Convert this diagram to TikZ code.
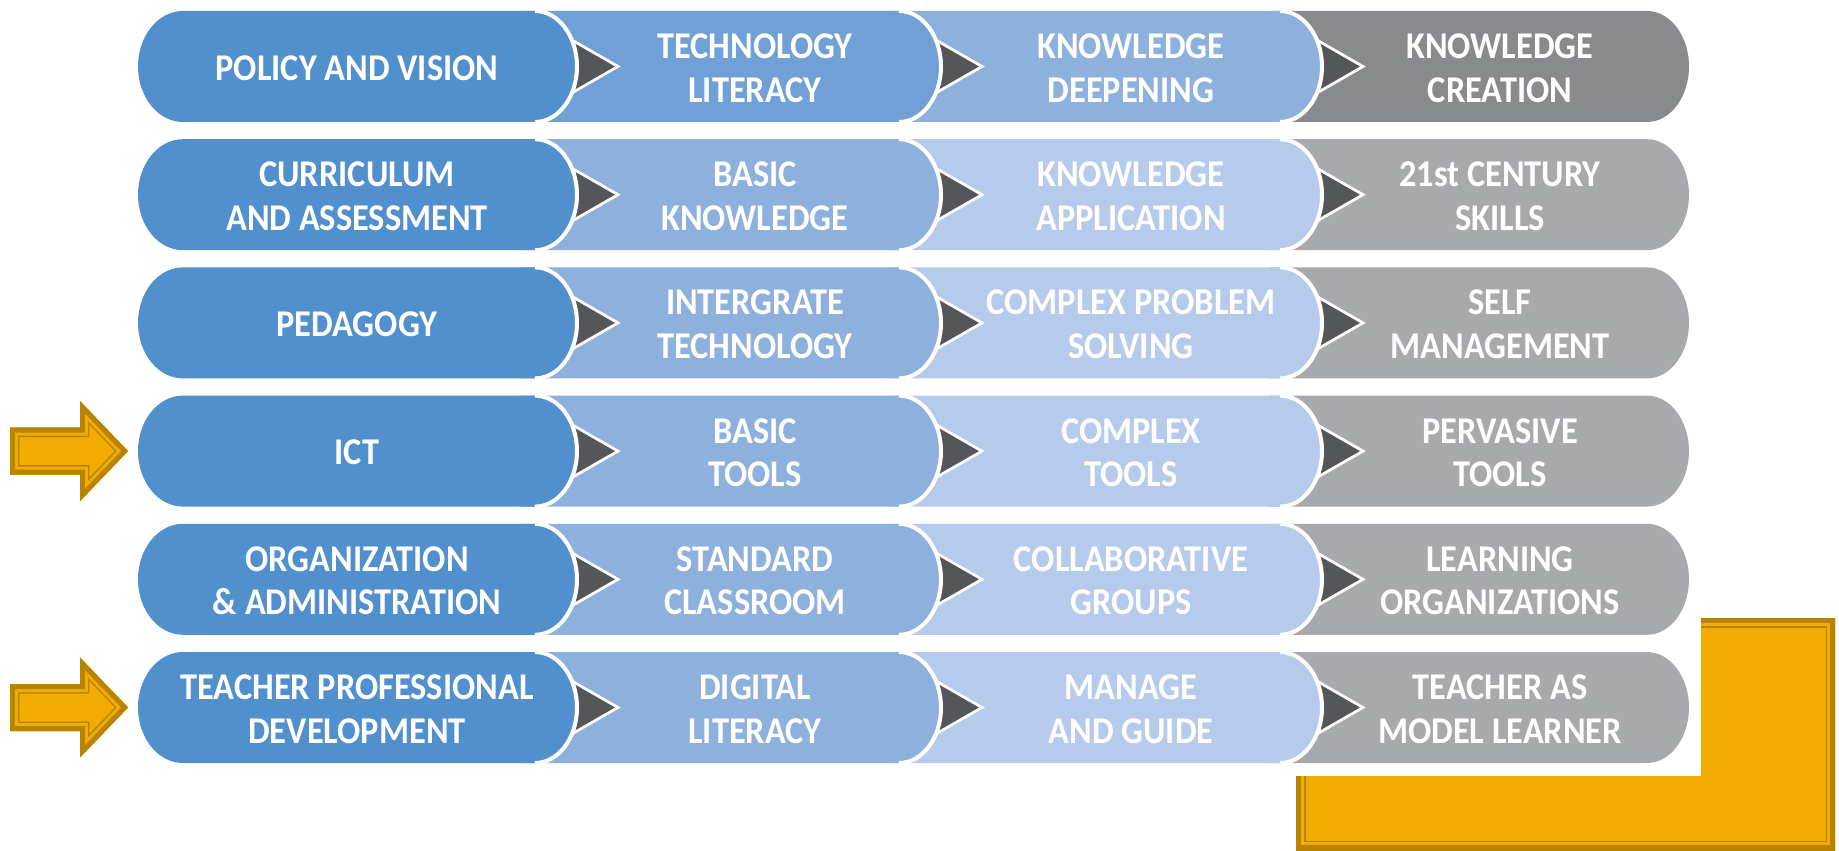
\documentclass[tikz,border=0pt]{standalone}
\usepackage{fontspec}
\setmainfont{Carlito}[FakeStretch=0.91]
\usetikzlibrary{positioning}

\definecolor{blueA}{RGB}{81,144,205}
\definecolor{blueB}{RGB}{112,160,214}
\definecolor{blueC}{RGB}{141,176,220}
\definecolor{blueD}{RGB}{182,203,235}
\definecolor{greyA}{RGB}{137,138,142}
\definecolor{greyB}{RGB}{168,169,173}
\definecolor{chevron}{RGB}{84,86,90}
\definecolor{gold}{RGB}{240,172,0}
\definecolor{golddark}{RGB}{184,132,0}

% dark chevron, #1 is the end of the strand before it, #2 the row centre
\newcommand{\chev}[2]{%
  \filldraw[fill=chevron, draw=white, line width=0.055cm, line join=miter]
    (#1+41,#2) -- (#1-20,#2-35) -- (#1-20,#2+35) -- cycle;}

% gold shape with the thick edge and the thin line inside it
\newcommand{\goldshape}[1]{%
  \begin{scope}
    \clip #1;
    \fill[gold] #1;
    \draw[golddark, line width=0.38cm] #1;
    \draw[gold, line width=0.32cm] #1;
    \draw[golddark, line width=0.2cm] #1;
  \end{scope}}

\newcommand{\goldarrow}[1]{%
  \goldshape{(10,#1-23.5) -- (80,#1-23.5) -- (80,#1-50) -- (128,#1) -- (80,#1+50) -- (80,#1+23.5) -- (10,#1+23.5) -- cycle}}

% one row: #1 centre, #2 #3 #4 colours of strand 2 3 4, #5..#8 the texts, #9 name of the row
\newcommand{\strandrow}[9]{%
  \fill[#4] (1270,#1-55.5) -- (1647,#1-55.5) arc[start angle=-90, end angle=90, x radius=42, y radius=55.5] -- (1270,#1+55.5) -- cycle;
  \chev{1322}{#1}
  \fill[#3] (890,#1-55.5) -- (1280,#1-55.5) arc[start angle=-90, end angle=90, x radius=42, y radius=55.5] -- (890,#1+55.5) -- cycle;
  \draw[white, line width=0.08cm] (1280,#1-55.5) arc[start angle=-90, end angle=90, x radius=42, y radius=55.5];
  \chev{941}{#1}
  \fill[#2] (520,#1-55.5) -- (899,#1-55.5) arc[start angle=-90, end angle=90, x radius=42, y radius=55.5] -- (520,#1+55.5) -- cycle;
  \draw[white, line width=0.08cm] (899,#1-55.5) arc[start angle=-90, end angle=90, x radius=42, y radius=55.5];
  \chev{577}{#1}
  \fill[blueA] (183,#1-55.5) -- (535,#1-55.5) arc[start angle=-90, end angle=90, x radius=42, y radius=55.5] -- (183,#1+55.5) arc[start angle=90, end angle=270, x radius=45, y radius=55.5] -- cycle;
  \draw[white, line width=0.08cm] (535,#1-55.5) arc[start angle=-90, end angle=90, x radius=42, y radius=55.5];
  \node[lbl] (#91) at (357,#1+1.5) {#5};
  \node[lbl] (#92) at (755,#1+1.5) {#6};
  \node[lbl] (#93) at (1131,#1+1.5) {#7};
  \node[lbl] (#94) at (1500,#1+1.5) {#8};}

\begin{document}
\begin{tikzpicture}[x=0.02cm, y=-0.02cm,
lbl/.style={text=white, font=\bfseries\fontsize{21.5}{24.8}\selectfont, align=center, inner sep=0pt}] % one unit is one pixel of the picture, y goes down
\useasboundingbox (0,0) rectangle (1839,851);

\goldshape{(1296,618) rectangle (1835,850)}% the gold box, the white part of the table lies over it
\fill[white] (1270,590) rectangle (1701,776);

\strandrow{66.5}{blueB}{blueC}{greyA}{POLICY AND VISION}{TECHNOLOGY\\LITERACY}{KNOWLEDGE\\DEEPENING}{KNOWLEDGE\\CREATION}{P}
\strandrow{194.7}{blueC}{blueD}{greyB}{CURRICULUM\\AND ASSESSMENT}{BASIC\\KNOWLEDGE}{KNOWLEDGE\\APPLICATION}{21st CENTURY\\SKILLS}{C}
\strandrow{322.9}{blueC}{blueD}{greyB}{PEDAGOGY}{INTERGRATE\\TECHNOLOGY}{COMPLEX PROBLEM\\SOLVING}{SELF\\MANAGEMENT}{G}
\strandrow{451.1}{blueC}{blueD}{greyB}{ICT}{BASIC\\TOOLS}{COMPLEX\\TOOLS}{PERVASIVE\\TOOLS}{T}
\strandrow{579.3}{blueC}{blueD}{greyB}{ORGANIZATION\\\& ADMINISTRATION}{STANDARD\\CLASSROOM}{COLLABORATIVE\\GROUPS}{LEARNING\\ORGANIZATIONS}{O}
\strandrow{707.5}{blueC}{blueD}{greyB}{TEACHER PROFESSIONAL\\DEVELOPMENT}{DIGITAL\\LITERACY}{MANAGE\\AND GUIDE}{TEACHER AS\\MODEL LEARNER}{D}

\goldarrow{451.1}% arrow at ICT
\goldarrow{707.5}% arrow at teacher development

\end{tikzpicture}
\end{document}
